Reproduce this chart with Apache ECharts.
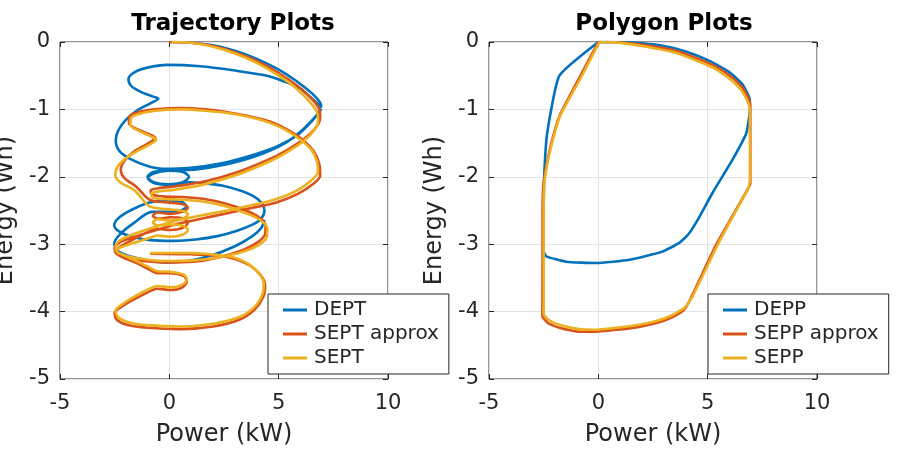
<!DOCTYPE html>
<html>
<head>
<meta charset="utf-8">
<script src="https://cdn.jsdelivr.net/npm/echarts@6/dist/echarts.min.js"></script>
<style>
html,body{margin:0;padding:0;background:#fff;}
#c{width:899px;height:454px;}
</style>
</head>
<body>
<div id="c"></div>
<script>
// ---- Data (Power kW, Energy Wh) ----
const DEPT = [
[0,0],[1,-0.01],[2,-0.05],[3,-0.13],[4,-0.25],[5,-0.41],[5.9,-0.6],[6.55,-0.77],[6.9,-0.9],[6.95,-0.97],
[6.6,-0.86],[5.98,-0.69],[5.2,-0.58],[4.47,-0.5],[2.92,-0.42],[1.42,-0.36],[-0.1,-0.34],[-1.0,-0.38],[-1.6,-0.45],[-1.87,-0.55],[-1.75,-0.65],[-1.3,-0.74],[-0.75,-0.81],[-0.5,-0.84],[-0.8,-0.9],[-1.5,-1.02],[-2.0,-1.16],[-2.35,-1.32],[-2.45,-1.47],[-2.25,-1.63],[-1.7,-1.75],[-1.0,-1.84],[-0.3,-1.88],
[0.87,-1.87],[2.4,-1.8],[3.9,-1.67],[5.0,-1.54],[5.9,-1.37],[6.5,-1.18],[6.85,-1.04],[6.95,-0.99],
[6.7,-1.1],[6.1,-1.3],[5.3,-1.5],[3.9,-1.7],[2.4,-1.83],[0.87,-1.9],[0.0,-1.9],
[-0.72,-1.93],[-1.0,-2.0],[-0.72,-2.08],[-0.05,-2.11],[0.62,-2.08],[0.9,-2.0],[0.62,-1.93],[-0.05,-1.91],[-0.72,-1.95],[-0.98,-2.02],[-0.65,-2.1],[0.1,-2.12],[0.9,-2.08],
[1.7,-2.1],[2.4,-2.13],[3.2,-2.2],[3.8,-2.28],[4.2,-2.38],[4.35,-2.5],[4.2,-2.62],[3.8,-2.71],[3.1,-2.8],[2.2,-2.88],[1.2,-2.93],[0.2,-2.95],[-0.87,-2.94],[-1.7,-2.89],[-2.3,-2.81],[-2.52,-2.72],[-2.35,-2.62],[-1.9,-2.52],[-1.4,-2.44],[-0.9,-2.38],
[-0.2,-2.35],[0.55,-2.37],[0.78,-2.44],[0.5,-2.5],[-0.2,-2.52],[-0.8,-2.52],
[-1.6,-2.68],[-2.25,-2.85],[-2.52,-2.99],[-2.35,-3.1],[-1.8,-3.18],[-1.0,-3.24],[-0.1,-3.27],[0.8,-3.25],[1.8,-3.18],[3.0,-3.03],[3.8,-2.88],[4.2,-2.76],[4.35,-2.64]
];
const SEPT_APPROX = [
[0,0],[1,-0.01],[2,-0.06],[3,-0.15],[4,-0.28],[5,-0.46],[5.9,-0.66],[6.5,-0.84],[6.85,-0.99],[6.9,-1.12],
[6.7,-1.27],[6.2,-1.43],[5.5,-1.58],[4.7,-1.72],[3.2,-1.92],[1.6,-2.07],[0.3,-2.14],[-0.5,-2.17],[-0.85,-2.2],
[-0.8,-2.26],[-0.3,-2.29],[0.6,-2.3],[1.6,-2.33],[2.6,-2.4],[3.5,-2.5],[4.1,-2.6],[4.4,-2.72],[4.38,-2.85],[4.05,-2.97],
[3.4,-3.08],[2.2,-3.2],[1.1,-3.26],[-0.2,-3.27],[-1.2,-3.25],[-2.0,-3.2],[-2.45,-3.13],[-2.5,-3.06],
[-2.2,-2.96],[-1.2,-2.85],[0.35,-2.7],[1.5,-2.62],[2.65,-2.54],[3.8,-2.46],[4.9,-2.38],[5.9,-2.25],[6.6,-2.1],[6.9,-1.98],
[6.85,-1.8],[6.6,-1.62],[6.1,-1.45],[5.4,-1.3],[4.6,-1.18],[3.9,-1.12],[2.8,-1.05],[1.64,-1.0],[0.5,-0.98],[-0.64,-1.0],[-1.4,-1.04],[-1.8,-1.1],[-1.85,-1.2],
[-1.5,-1.29],[-0.9,-1.37],[-0.64,-1.42],[-0.95,-1.5],[-1.6,-1.62],[-2.05,-1.76],[-2.22,-1.9],[-2.05,-2.02],[-1.5,-2.15],[-0.9,-2.34],
[-0.1,-2.38],[0.65,-2.41],[0.85,-2.46],[0.6,-2.52],[0.05,-2.55],[-0.55,-2.53],[-0.75,-2.58],[-0.5,-2.62],[0.05,-2.6],[0.65,-2.62],[0.85,-2.68],[0.6,-2.76],[0.05,-2.79],[-0.55,-2.77],[-0.85,-2.8],
[-1.6,-2.92],[-2.3,-3.05],[-2.45,-3.12],
[-2.1,-3.2],[-1.5,-3.28],[-1.0,-3.36],[-0.55,-3.43],[0.05,-3.43],[0.65,-3.47],[0.8,-3.55],[0.6,-3.64],[0.05,-3.68],[-0.55,-3.66],[-0.9,-3.7],
[-1.5,-3.8],[-2.15,-3.92],[-2.5,-4.02],[-2.4,-4.12],[-1.9,-4.2],[-1.0,-4.24],[0.5,-4.26],[2.0,-4.22],[3.2,-4.12],[3.9,-3.97],[4.3,-3.78],[4.38,-3.62],[4.2,-3.47],[3.7,-3.32],[3.0,-3.22],[2.2,-3.17],[1.0,-3.15],[-0.87,-3.14]
];
const SEPT = [
[0.1,0],[1,-0.01],[2,-0.07],[3,-0.17],[4,-0.31],[5,-0.5],[5.85,-0.7],[6.45,-0.9],[6.78,-1.06],[6.8,-1.18],
[6.6,-1.32],[6.1,-1.48],[5.4,-1.63],[4.6,-1.77],[3.1,-1.97],[1.5,-2.12],[0.3,-2.19],[-0.5,-2.22],[-0.82,-2.25],
[-0.75,-2.31],[-0.3,-2.33],[0.6,-2.34],[1.6,-2.37],[2.6,-2.44],[3.5,-2.54],[4.15,-2.64],[4.48,-2.77],[4.45,-2.9],[4.1,-3.01],
[3.4,-3.11],[2.2,-3.2],[1.1,-3.24],[-0.2,-3.25],[-1.2,-3.22],[-2.0,-3.17],[-2.42,-3.1],[-2.45,-3.02],
[-2.15,-2.92],[-1.2,-2.8],[0.35,-2.65],[1.5,-2.57],[2.65,-2.5],[3.8,-2.42],[4.9,-2.33],[5.85,-2.2],[6.5,-2.05],[6.8,-1.93],
[6.75,-1.77],[6.5,-1.6],[6.0,-1.45],[5.35,-1.31],[4.6,-1.2],[3.9,-1.13],[2.8,-1.06],[1.64,-1.02],[0.5,-1.0],[-0.64,-1.02],[-1.4,-1.07],[-1.75,-1.13],[-1.78,-1.23],
[-1.4,-1.32],[-0.85,-1.4],[-0.6,-1.45],[-0.95,-1.53],[-1.7,-1.66],[-2.3,-1.82],[-2.47,-1.97],[-2.25,-2.08],[-1.6,-2.2],[-0.9,-2.44],
[-0.1,-2.48],[0.65,-2.51],[0.85,-2.56],[0.6,-2.62],[0.05,-2.65],[-0.55,-2.63],[-0.75,-2.68],[-0.5,-2.72],[0.05,-2.71],[0.65,-2.73],[0.85,-2.79],[0.6,-2.86],[0.05,-2.89],[-0.55,-2.87],[-0.85,-2.9],
[-1.6,-2.98],[-2.25,-3.05],[-2.4,-3.1],
[-2.05,-3.17],[-1.5,-3.25],[-1.0,-3.33],[-0.55,-3.4],[0.05,-3.41],[0.65,-3.45],[0.8,-3.52],[0.6,-3.6],[0.05,-3.64],[-0.55,-3.62],[-0.9,-3.66],
[-1.5,-3.76],[-2.1,-3.88],[-2.45,-3.98],[-2.35,-4.08],[-1.85,-4.16],[-1.0,-4.2],[0.5,-4.22],[2.0,-4.18],[3.2,-4.08],[3.9,-3.93],[4.25,-3.75],[4.32,-3.6],[4.15,-3.45],[3.65,-3.3],[3.0,-3.2],[2.2,-3.16],[1.0,-3.13],[-0.87,-3.13]
];
const DEPP = [
[0,0],[-1.78,-0.5],[-2.33,-1.33],[-2.47,-1.95],[-2.5,-2.6],[-2.5,-3.1],[-2.38,-3.18],[-1.47,-3.26],[-0.09,-3.28],[1.42,-3.23],[2.93,-3.11],[3.7,-2.98],[4.1,-2.86],[4.49,-2.67],[5.22,-2.24],[6.13,-1.75],[6.77,-1.35],[6.93,-1.0],[6.93,-0.86],[6.6,-0.63],[6.0,-0.45],[5.08,-0.28],[4.0,-0.14],[3.0,-0.06],[2.0,-0.02],[1.0,0],[0,0]
];
const SEPP_APPROX = [
[0,0],[-0.9,-0.55],[-1.78,-1.1],[-2.15,-1.5],[-2.38,-1.85],[-2.52,-2.15],[-2.55,-2.6],[-2.55,-3.2],[-2.56,-4.07],[-2.3,-4.17],[-1.78,-4.24],[-0.9,-4.3],[-0.2,-4.3],[0.82,-4.27],[1.8,-4.23],[2.65,-4.17],[3.4,-4.08],[3.9,-3.98],[4.2,-3.82],[5.4,-3.0],[6.1,-2.6],[6.77,-2.22],[6.95,-2.1],[6.95,-1.5],[6.95,-1.0],[6.9,-0.86],[6.6,-0.68],[6.13,-0.53],[5.4,-0.37],[4.49,-0.24],[3.4,-0.12],[2.2,-0.05],[1.2,-0.01],[0.37,0],[0,0]
];
const SEPP = [
[0.05,0],[-0.85,-0.56],[-1.75,-1.1],[-2.12,-1.5],[-2.36,-1.85],[-2.48,-2.15],[-2.5,-2.6],[-2.5,-3.2],[-2.5,-4.04],[-2.25,-4.13],[-1.75,-4.2],[-0.9,-4.26],[-0.2,-4.27],[0.82,-4.24],[1.8,-4.2],[2.65,-4.14],[3.4,-4.05],[3.95,-3.94],[4.3,-3.78],[5.5,-2.98],[6.2,-2.56],[6.85,-2.18],[6.93,-2.05],[6.93,-1.5],[6.93,-1.02],[6.85,-0.9],[6.55,-0.72],[6.1,-0.57],[5.35,-0.4],[4.45,-0.27],[3.4,-0.15],[2.2,-0.07],[1.2,-0.02],[0.37,0],[0.05,0]
];
const TITLES = ['Trajectory Plots', 'Polygon Plots'];
const X_NAME = 'Power (kW)';
const Y_NAME = 'Energy (Wh)';
const X_RANGE = [-5, 10, 5];
const Y_RANGE = [-5, 0, 1];

const COLORS = ['#0072BD', '#D95319', '#EDB120'];
const FONT = 'DejaVu Sans';
const TXT = '#262626';

function xAxes(gi) {
  return [{
    gridIndex: gi, type: 'value', min: X_RANGE[0], max: X_RANGE[1], interval: X_RANGE[2],
    axisLine: {show: false, onZero: false},
    axisTick: {inside: true, length: 5, lineStyle: {color: TXT}},
    axisLabel: {fontSize: 21, color: TXT, fontFamily: FONT, margin: 14},
    splitLine: {show: true, lineStyle: {color: '#e3e3e3', width: 1}},
    name: X_NAME, nameLocation: 'middle', nameGap: 44,
    nameTextStyle: {fontSize: 24, color: TXT, fontFamily: FONT}
  }, {
    gridIndex: gi, type: 'value', position: 'top', min: X_RANGE[0], max: X_RANGE[1], interval: X_RANGE[2],
    axisLine: {show: false, onZero: false}, axisLabel: {show: false}, splitLine: {show: false},
    axisTick: {inside: true, length: 5, lineStyle: {color: TXT}}
  }];
}
function yAxes(gi) {
  return [{
    gridIndex: gi, type: 'value', min: Y_RANGE[0], max: Y_RANGE[1], interval: Y_RANGE[2],
    axisLine: {show: false, onZero: false},
    axisTick: {inside: true, length: 5, lineStyle: {color: TXT}},
    axisLabel: {fontSize: 21, color: TXT, fontFamily: FONT, margin: 10},
    splitLine: {show: true, lineStyle: {color: '#e3e3e3', width: 1}},
    name: Y_NAME, nameLocation: 'middle', nameGap: 42, nameRotate: 90,
    nameTextStyle: {fontSize: 24, color: TXT, fontFamily: FONT}
  }, {
    gridIndex: gi, type: 'value', position: 'right', min: Y_RANGE[0], max: Y_RANGE[1], interval: Y_RANGE[2],
    axisLine: {show: false, onZero: false}, axisLabel: {show: false}, splitLine: {show: false},
    axisTick: {inside: true, length: 5, lineStyle: {color: TXT}}
  }];
}
function ser(name, data, gi, ci, smooth) {
  return {
    name: name, type: 'line', data: data, xAxisIndex: gi * 2, yAxisIndex: gi * 2,
    showSymbol: false, symbol: 'none', smooth: smooth, animation: false,
    lineStyle: {color: COLORS[ci], width: 2.6}, itemStyle: {color: COLORS[ci]}
  };
}
function legend(names, left) {
  return {
    data: names, orient: 'vertical', left: left, top: 294,
    icon: 'rect', itemWidth: 24, itemHeight: 3, itemGap: 0,
    padding: [4, 10, 4, 15], borderColor: TXT, borderWidth: 1, backgroundColor: '#fff',
    borderRadius: 0,
    textStyle: {fontSize: 20, color: TXT, fontFamily: FONT, lineHeight: 24, padding: [0, 0, 0, 2]},
    selectedMode: false
  };
}

const chart = echarts.init(document.getElementById('c'), null, {renderer: 'canvas'});
chart.setOption({
  animation: false,
  backgroundColor: '#fff',
  title: [
    {text: TITLES[0], left: 228, top: 8, textAlign: 'center',
     textStyle: {fontSize: 23, fontWeight: 'bold', color: '#000', fontFamily: FONT}},
    {text: TITLES[1], left: 659, top: 8, textAlign: 'center',
     textStyle: {fontSize: 23, fontWeight: 'bold', color: '#000', fontFamily: FONT}}
  ],
  grid: [
    {left: 60, right: 511, top: 42, bottom: 75, show: true, borderColor: TXT, borderWidth: 1, backgroundColor: 'transparent', containLabel: false, outerBoundsMode: 'none'},
    {left: 489, right: 82, top: 42, bottom: 75, show: true, borderColor: TXT, borderWidth: 1, backgroundColor: 'transparent', containLabel: false, outerBoundsMode: 'none'}
  ],
  xAxis: xAxes(0).concat(xAxes(1)),
  yAxis: yAxes(0).concat(yAxes(1)),
  legend: [legend(['DEPT', 'SEPT approx', 'SEPT'], 268), legend(['DEPP', 'SEPP approx', 'SEPP'], 708)],
  series: [
    ser('DEPT', DEPT, 0, 0, 0.3),
    ser('SEPT approx', SEPT_APPROX, 0, 1, 0.3),
    ser('SEPT', SEPT, 0, 2, 0.3),
    ser('DEPP', DEPP, 1, 0, 0.15),
    ser('SEPP approx', SEPP_APPROX, 1, 1, 0.15),
    ser('SEPP', SEPP, 1, 2, 0.15)
  ]
});
</script>
</body>
</html>
